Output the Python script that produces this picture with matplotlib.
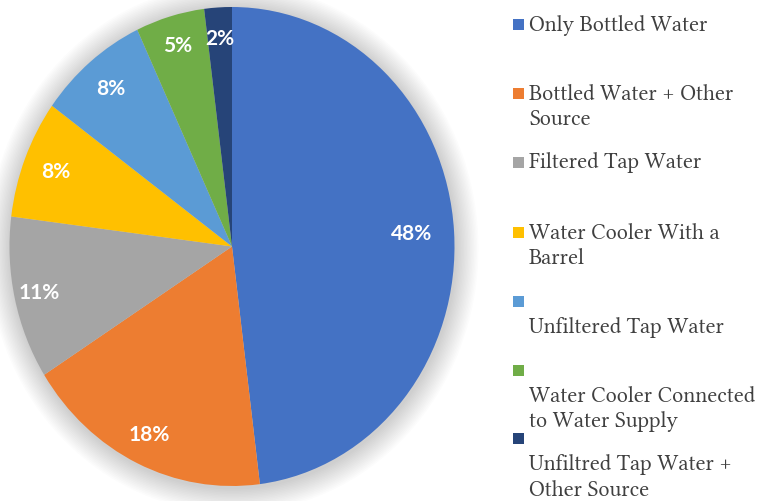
import numpy as np
import matplotlib
matplotlib.use("Agg")
import matplotlib.pyplot as plt
from matplotlib.patches import Ellipse, Rectangle

categories = [
    "Only Bottled Water",
    "Bottled Water + Other\nSource",
    "Filtered Tap Water",
    "Water Cooler With a\nBarrel",
    "\nUnfiltered Tap Water",
    "\nWater Cooler Connected\nto Water Supply",
    "\nUnfiltred Tap Water +\nOther Source",
]
shares = [48, 18, 11, 8, 8, 5, 2]
colors = ["#4472C4", "#ED7D31", "#A5A5A5", "#FFC000", "#5B9BD5", "#70AD47", "#264478"]

W, H = 758, 501
fig = plt.figure(figsize=(W / 100, H / 100), dpi=100)

# pie spans x 9.5..454.5 px, y 7..486 px (slightly stretched vertically)
left, right, top, bottom = 9.5, 454.5, 7, 486
ax = fig.add_axes([left / W, 1 - bottom / H, (right - left) / W, (bottom - top) / H])

# soft shadow behind the pie
for i in range(16):
    s = 1.0 + 0.0065 * (i + 1)
    ax.add_patch(Ellipse((0.004, -0.008), 2 * s, 2 * s, facecolor="#000000",
                         alpha=0.012, linewidth=0, zorder=0, clip_on=False))

wedges, texts = ax.pie(shares, colors=colors, startangle=90, counterclock=False,
                       wedgeprops=dict(linewidth=0), radius=1.0)
for w in wedges:
    w.set_zorder(2)

label_r = [0.81, 0.87, 0.89, 0.85, 0.855, 0.87, 0.87]
cum = np.cumsum([0] + shares)
for i, v in enumerate(shares):
    mid = 90 - 360 * (cum[i] + v / 2) / 100
    a = np.deg2rad(mid)
    ax.text(label_r[i] * np.cos(a), label_r[i] * np.sin(a), f"{v}%",
            ha="center", va="center", color="white", fontsize=15,
            fontweight="bold", family="Lato", zorder=3)

ax.set_aspect("auto")
ax.set_xlim(-1, 1)
ax.set_ylim(-1, 1)
ax.axis("off")

# legend, drawn by hand to mimic the wrapped layout
entry_y = [25, 94, 163, 233, 302, 371, 439]
line_h = 25.5
for i, lab in enumerate(categories):
    y0 = entry_y[i]
    fig.patches.append(Rectangle((513 / W, 1 - (y0 + 4.5) / H), 10.5 / W, 10.5 / H,
                                 transform=fig.transFigure, facecolor=colors[i],
                                 linewidth=0))
    for j, line in enumerate(lab.split("\n")):
        if line:
            fig.text(529 / W, 1 - (y0 + j * line_h) / H, line, ha="left", va="center",
                     fontsize=16, family="Libertinus Serif", color="#404040")

fig.savefig("out.png", dpi=100)
